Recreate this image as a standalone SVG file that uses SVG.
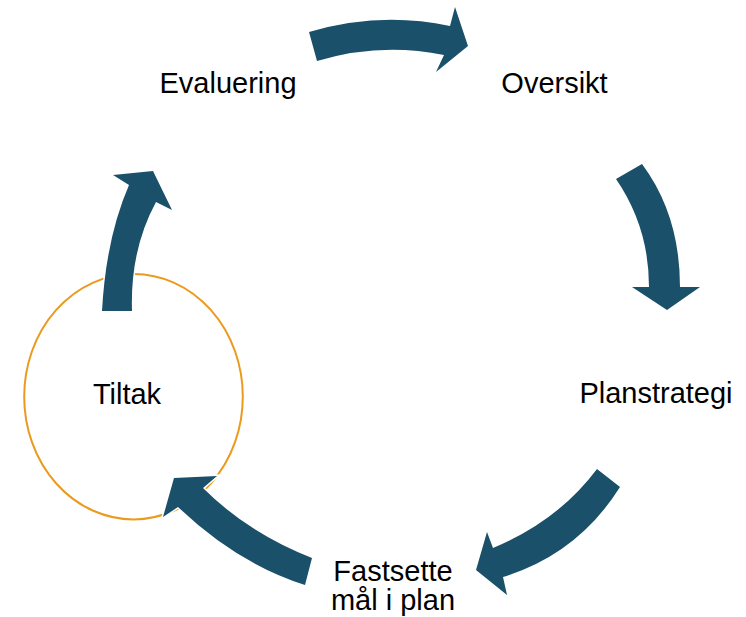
<svg xmlns="http://www.w3.org/2000/svg" width="746" height="617" viewBox="0 0 746 617">
<style>
.lbl{font-family:"Liberation Sans",Arial,sans-serif;font-size:29px;fill:#000;text-anchor:middle}
.arr{fill:#1A5069;stroke:#fff;stroke-width:3;paint-order:stroke;stroke-linejoin:miter}
</style>
<rect width="746" height="617" fill="#fff"/>
<g id="node-tiltak">
<ellipse cx="133.5" cy="396.7" rx="109.3" ry="122.7" fill="none" stroke="#EB9A1E" stroke-width="2"/>
<text class="lbl" x="127" y="404">Tiltak</text>
</g>
<g id="node-evaluering"><text class="lbl" x="228" y="93">Evaluering</text></g>
<g id="node-oversikt"><text class="lbl" x="554.5" y="93">Oversikt</text></g>
<g id="node-planstrategi"><text class="lbl" x="656" y="403">Planstrategi</text></g>
<g id="node-fastsette"><text class="lbl" x="393" y="581">Fastsette</text><text class="lbl" x="393" y="610">mål i plan</text></g>
<g id="connectors">
<path class="arr" d="M309,32 Q380,11 450,26 L455,7 L468,46 L436,72 L444,55 Q380,42 317,61 Z"/>
<path class="arr" d="M616,179 L642,164 Q680,215 680,287 L700,287 L667,310 L632,287 L649,287 Q649,227 616,179 Z"/>
<path class="arr" d="M597,469 L620,487 Q578,554 503,577 L507,595 L476,570 L487,532 L493,548 Q558,521 597,469 Z"/>
<path class="arr" d="M312,558 Q248,533 203,488 L217,476 L174,478 L163,517 L178,507 Q238,564 305,585 Z"/>
<path class="arr" d="M102,311 Q106,238 129,185 L113,175 L153,171 L172,210 L156,202 Q130,250 132,311 Z"/>
</g>
</svg>
